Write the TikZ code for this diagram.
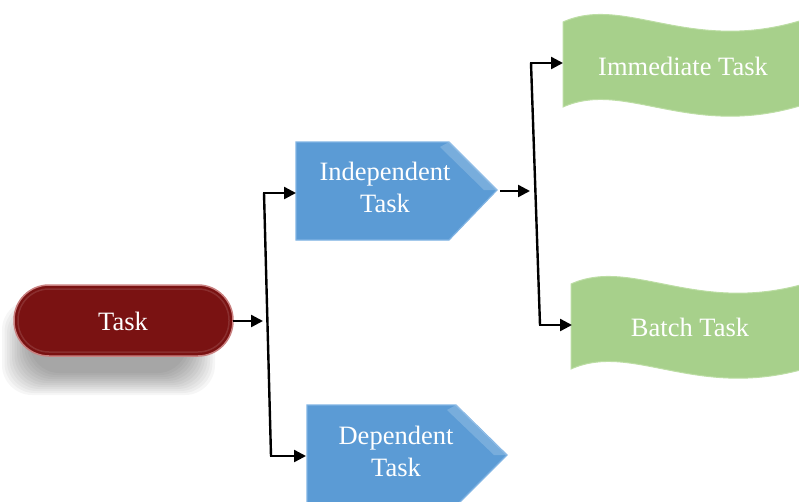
\documentclass[tikz,border=0pt]{standalone}
\usepackage{fontspec}
\setmainfont{Liberation Serif}
\usetikzlibrary{arrows.meta}
\definecolor{taskred}{HTML}{7A1212}
\definecolor{taskrim}{HTML}{C98080}
\definecolor{blueA}{HTML}{5B9BD5}
\definecolor{blueB}{HTML}{7FB3E3}
\definecolor{greenA}{HTML}{A7D08B}
\definecolor{greenB}{HTML}{BCDDA4}
\tikzset{
  lbl/.style={text=white,font=\fontsize{26.5}{32}\selectfont,align=center,inner sep=0pt},
  conn/.style={line width=2.4pt,black},
  arr/.style={conn,-{Triangle[length=12pt,width=12pt]}},
  blueshape/.style={fill=blueA,draw=blueB,line width=1.2pt},
  greenshape/.style={fill=greenA,draw=greenB,line width=1pt},
}
\begin{document}
\begin{tikzpicture}[x=1pt,y=-1pt]
\useasboundingbox (0,0) rectangle (799,501);
\clip (0,0) rectangle (799,501);
% shadow of Task pill
\foreach \i in {0,...,11}{
  \fill[black,opacity=0.035,rounded corners=30pt] (2+\i*2.5,300+\i*2) rectangle (215-\i*2.5,395-\i*2);
}
% Task pill
\fill[taskred,draw=taskrim,line width=1.5pt,rounded corners=35pt] (14,285) rectangle (233,356);
\draw[white,opacity=0.12,line width=1.5pt,rounded corners=31pt] (18,289) rectangle (229,352);
\node[lbl] (task) at (123,321) {Task};
% Independent Task
\path[blueshape] (296,142) -- (449,142) -- (497,190) -- (449,240) -- (296,240) -- cycle;
\fill[white,opacity=0.18] (449,142) -- (497,190) -- (484,190) -- (440,147) -- cycle;
\node[lbl] (indep) at (385,187) {Independent\\Task};
% Dependent Task
\path[blueshape] (307,405) -- (456,405) -- (507,455) -- (456,506) -- (307,506) -- cycle;
\fill[white,opacity=0.18] (456,405) -- (507,455) -- (494,455) -- (447,410) -- cycle;
\node[lbl] (dep) at (396,451) {Dependent\\Task};
% Immediate Task wave
\path[greenshape] (563,22) .. controls (630,-8) and (700,65) .. (830,10)
   -- (830,95) .. controls (700,150) and (630,77) .. (563,107) -- cycle;
\node[lbl] (imm) at (683,66) {Immediate Task};
% Batch Task wave
\path[greenshape] (571,284) .. controls (638,254) and (708,327) .. (838,272)
   -- (838,357) .. controls (708,412) and (638,339) .. (571,369) -- cycle;
\node[lbl] (batch) at (690,327) {Batch Task};
% connector coordinates
\coordinate (taskE) at (233,321);
\coordinate (j1) at (263,321);
\coordinate (b1t) at (264,193);
\coordinate (b1b) at (271,456);
\coordinate (indepW) at (296,193);
\coordinate (depW) at (306,456);
\coordinate (indepE) at (500,191);
\coordinate (j2) at (530,191);
\coordinate (b2t) at (531,63);
\coordinate (b2b) at (540,325);
\coordinate (immW) at (563,63);
\coordinate (batchW) at (572,325);
% connectors
\draw[arr] (taskE) -- (j1);
\draw[conn] (b1t) -- (b1b);
\draw[arr] ([xshift=-1.2pt]b1t) -- (indepW);
\draw[arr] ([xshift=-1.2pt]b1b) -- (depW);
\draw[arr] (indepE) -- (j2);
\draw[conn] (b2t) -- (b2b);
\draw[arr] ([xshift=-1.2pt]b2t) -- (immW);
\draw[arr] ([xshift=-1.2pt]b2b) -- (batchW);
\end{tikzpicture}
\end{document}
